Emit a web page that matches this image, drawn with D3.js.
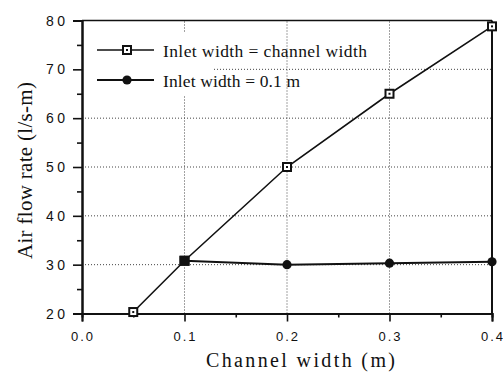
<!DOCTYPE html>
<html>
<head>
<meta charset="utf-8">
<script src="https://cdn.jsdelivr.net/npm/d3@7"></script>
<style>
  html, body { margin: 0; padding: 0; background: #fff; }
  svg { display: block; }
</style>
</head>
<body>
<svg id="chart" width="503" height="375"></svg>
<script>
// ---- data ----
const seriesNames = ["Inlet width = channel width", "Inlet width = 0.1 m"];
const channelX = [0.05, 0.1, 0.2, 0.3, 0.4];
const channelY = [20.3, 30.8, 50.0, 65.0, 78.8];
const fixedX = [0.1, 0.2, 0.3, 0.4];
const fixedY = [30.8, 30.0, 30.3, 30.6];
const xTicks = [0.0, 0.1, 0.2, 0.3, 0.4];
const xTickLabels = ["0.0", "0.1", "0.2", "0.3", "0.4"];
const xMinor = [0.05, 0.15, 0.25, 0.35];
const yTicks = [20, 30, 40, 50, 60, 70, 80];
const yMinor = [25, 35, 45, 55, 65, 75];
const xTitle = "Channel width (m)";
const yTitle = "Air flow rate (l/s-m)";

const svg = d3.select("#chart");
const x = d3.scaleLinear().domain([0, 0.4]).range([82, 492]);
const y = d3.scaleLinear().domain([20, 80]).range([313.5, 20.5]);
const ink = "#111";

// grid (dotted)
const grid = svg.append("g").attr("stroke", "#444").attr("stroke-width", 1)
  .attr("stroke-dasharray", "1,2");
grid.selectAll(".gy").data(yTicks.filter(v => v > 20 && v < 80)).join("line")
  .attr("x1", x(0)).attr("x2", x(0.4)).attr("y1", d => y(d)).attr("y2", d => y(d));
grid.selectAll(".gx").data(xTicks.filter(v => v > 0 && v < 0.4)).join("line")
  .attr("y1", y(20)).attr("y2", y(80)).attr("x1", d => x(d)).attr("x2", d => x(d));

// legend background hides grid
svg.append("rect").attr("x", 85).attr("y", 33).attr("width", 127).attr("height", 62).attr("fill", "#fff");

// axes
const yAxis = svg.append("g").attr("transform", `translate(${x(0)},0)`)
  .call(d3.axisLeft(y).tickValues(yTicks).tickSize(9).tickFormat(""));
const yAxisMinor = svg.append("g").attr("transform", `translate(${x(0)},0)`)
  .call(d3.axisLeft(y).tickValues(yMinor).tickSize(5).tickFormat(""));
const xAxis = svg.append("g").attr("transform", `translate(0,${y(20)})`)
  .call(d3.axisBottom(x).tickValues(xTicks).tickSize(8).tickFormat(""));
const xAxisMinor = svg.append("g").attr("transform", `translate(0,${y(20)})`)
  .call(d3.axisBottom(x).tickValues(xMinor).tickSize(4).tickFormat(""));
[yAxis, yAxisMinor, xAxis, xAxisMinor].forEach(g => {
  g.selectAll("path").attr("stroke", ink).attr("stroke-width", 2);
  g.selectAll("line").attr("stroke", ink).attr("stroke-width", 1.6);
});
// top and right frame
svg.append("line").attr("x1", x(0)).attr("x2", x(0.4)).attr("y1", y(80)).attr("y2", y(80))
  .attr("stroke", ink).attr("stroke-width", 1.6);
svg.append("line").attr("x1", x(0.4)).attr("x2", x(0.4)).attr("y1", y(80)).attr("y2", y(20))
  .attr("stroke", ink).attr("stroke-width", 2);

// tick labels
svg.append("g").selectAll("text").data(yTicks).join("text")
  .attr("x", 65).attr("y", d => y(d) + 5).attr("text-anchor", "end")
  .attr("font-family", "Liberation Sans, Arial, sans-serif").attr("font-size", 14)
  .attr("fill", ink).attr("textLength", 19).attr("lengthAdjust", "spacing")
  .text(d => d);
svg.append("g").selectAll("text").data(xTicks).join("text")
  .attr("x", d => x(d)).attr("y", 341).attr("text-anchor", "middle")
  .attr("font-family", "Liberation Sans, Arial, sans-serif").attr("font-size", 13)
  .attr("fill", ink).attr("textLength", 22).attr("lengthAdjust", "spacing")
  .text((d, i) => xTickLabels[i]);

// axis titles
svg.append("text").attr("x", 206).attr("y", 367)
  .attr("font-family", "Liberation Serif, Times New Roman, serif").attr("font-size", 20)
  .attr("fill", ink).attr("textLength", 189).attr("lengthAdjust", "spacing").text(xTitle);
svg.append("text").attr("transform", "translate(32,259) rotate(-90)")
  .attr("font-family", "Liberation Serif, Times New Roman, serif").attr("font-size", 21)
  .attr("fill", ink).attr("textLength", 177).attr("lengthAdjust", "spacing").text(yTitle);

// series lines
const line = d3.line().x(d => x(d[0])).y(d => y(d[1]));
const s1 = channelX.map((v, i) => [v, channelY[i]]);
const s2 = fixedX.map((v, i) => [v, fixedY[i]]);
svg.append("path").datum(s1).attr("d", line).attr("fill", "none").attr("stroke", ink).attr("stroke-width", 1.6);
svg.append("path").datum(s2).attr("d", line).attr("fill", "none").attr("stroke", ink).attr("stroke-width", 2);

function squareMarker(g, cx, cy) {
  g.append("rect").attr("x", cx - 4).attr("y", cy - 4).attr("width", 8).attr("height", 8)
    .attr("fill", "#fff").attr("stroke", ink).attr("stroke-width", 2);
  g.append("rect").attr("x", cx - 1).attr("y", cy - 1).attr("width", 2).attr("height", 2).attr("fill", ink);
}
function dotMarker(g, cx, cy) {
  g.append("circle").attr("cx", cx).attr("cy", cy).attr("r", 4.6).attr("fill", ink);
}
const m1 = svg.append("g");
s1.forEach(d => squareMarker(m1, x(d[0]), y(d[1])));
const m2 = svg.append("g");
s2.forEach(d => {
  if (d[0] === 0.1) {
    m2.append("rect").attr("x", x(d[0]) - 5).attr("y", y(d[1]) - 5).attr("width", 10).attr("height", 10).attr("fill", ink);
  } else dotMarker(m2, x(d[0]), y(d[1]));
});

// legend
const legY = [50, 80];
const leg = svg.append("g");
seriesNames.forEach((name, i) => {
  leg.append("line").attr("x1", 97).attr("x2", 154).attr("y1", legY[i]).attr("y2", legY[i])
    .attr("stroke", ink).attr("stroke-width", i === 0 ? 1.4 : 2.2);
  if (i === 0) squareMarker(leg, 127, legY[i]); else dotMarker(leg, 127, legY[i]);
  leg.append("text").attr("x", 163).attr("y", legY[i] + 6.5)
    .attr("font-family", "Liberation Serif, Times New Roman, serif").attr("font-size", 17.5)
    .attr("fill", ink).attr("textLength", i === 0 ? 204 : 137).attr("lengthAdjust", "spacing")
    .text(name);
});
</script>
</body>
</html>
